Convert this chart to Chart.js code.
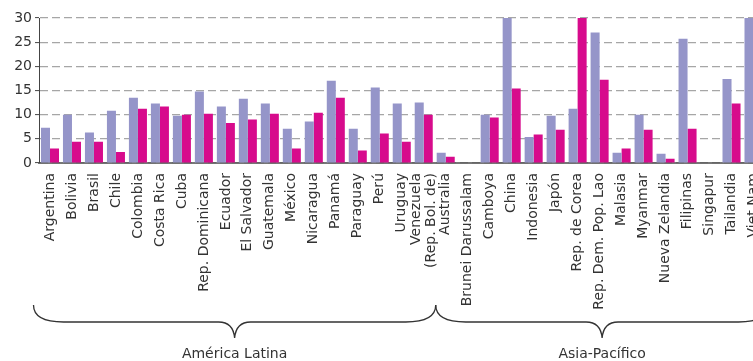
<!DOCTYPE html>
<html>
<head>
<meta charset="utf-8">
<script src="https://cdn.jsdelivr.net/npm/chart.js@4/dist/chart.umd.min.js"></script>
<style>
    html, body { margin: 0; padding: 0; background: #fff; overflow: hidden; }
    #wrap { width: 770px; height: 361px; }
</style>
</head>
<body>
<div id="wrap"><canvas id="barchart" width="770" height="361"></canvas></div>
<script>
"use strict";

var countries = [
    'Argentina', 'Bolivia', 'Brasil', 'Chile', 'Colombia', 'Costa Rica', 'Cuba',
    'Rep. Dominicana', 'Ecuador', 'El Salvador', 'Guatemala', 'México', 'Nicaragua',
    'Panamá', 'Paraguay', 'Perú', 'Uruguay', ['Venezuela', '(Rep. Bol. de)'],
    'Australia', 'Brunei Darussalam', 'Camboya', 'China', 'Indonesia', 'Japón',
    'Rep. de Corea', 'Rep. Dem. Pop. Lao', 'Malasia', 'Myanmar', 'Nueva Zelandia',
    'Filipinas', 'Singapur', 'Tailandia', 'Viet Nam'
];

var serieA = [
    7.3, 10.0, 6.3, 10.8, 13.5, 12.3, 9.8, 14.8, 11.7, 13.3, 12.3, 7.1, 8.6,
    17.0, 7.1, 15.6, 12.3, 12.5,
    2.1, null, 10.0, 30, 5.4, 9.8, 11.2, 27.0, 2.1, 10.0, 1.9, 25.7, null, 17.4, 30
];

var serieB = [
    3.0, 4.4, 4.4, 2.3, 11.2, 11.7, 10.0, 10.2, 8.3, 9.0, 10.2, 3.0, 10.4,
    13.5, 2.6, 6.1, 4.4, 10.0,
    1.3, null, 9.4, 15.4, 5.9, 6.9, 30, 17.2, 3.0, 6.9, 0.9, 7.1, null, 12.3, 16.0
];

var yTicks = [0, 5, 10, 15, 20, 25, 30];

var groups = [
    { name: 'América Latina', first: 0, last: 17 },
    { name: 'Asia-Pacífico', first: 18, last: 32 }
];

var fontFamily = '"DejaVu Sans", sans-serif';

/* curly braces under the category labels */
function drawBrace(ctx, x1, x2, yTop, yLine, yTip) {
    var mid = (x1 + x2) / 2;
    ctx.beginPath();
    ctx.moveTo(x1, yTop);
    ctx.bezierCurveTo(x1, yTop + 12, x1 + 12, yLine, x1 + 30, yLine);
    ctx.lineTo(mid - 16, yLine);
    ctx.bezierCurveTo(mid - 6, yLine, mid - 1, yLine + 5, mid, yTip);
    ctx.bezierCurveTo(mid + 1, yLine + 5, mid + 6, yLine, mid + 16, yLine);
    ctx.lineTo(x2 - 30, yLine);
    ctx.bezierCurveTo(x2 - 12, yLine, x2, yTop + 12, x2, yTop);
    ctx.stroke();
}

var bracePlugin = {
    id: 'braces',
    beforeDraw: function (chart) {
        /* center multi-line rotated labels on their tick */
        var items = chart.scales.x.getLabelItems();
        items.forEach(function (item) {
            if (Array.isArray(item.label) && item.label.length > 1 && !item.centred) {
                item.textOffset -= item.font.lineHeight * (item.label.length - 1) / 2;
                item.centred = true;
            }
        });
    },
    afterDraw: function (chart) {
        var ctx = chart.ctx;
        var x = chart.scales.x;
        var half = (x.getPixelForValue(1) - x.getPixelForValue(0)) / 2;
        ctx.save();
        ctx.strokeStyle = '#333';
        ctx.lineWidth = 1.3;
        ctx.fillStyle = '#333';
        ctx.font = '14px ' + fontFamily;
        ctx.textAlign = 'center';
        ctx.textBaseline = 'alphabetic';
        groups.forEach(function (g, i) {
            var left = x.getPixelForValue(g.first) - half + (i === 0 ? -5.5 : 1);
            var right = x.getPixelForValue(g.last) + half + (i === 0 ? 1 : 4);
            drawBrace(ctx, left, right, 305, 322, 338);
            ctx.fillText(g.name, (left + right) / 2, 358);
        });
        ctx.restore();
    }
};

var barctx = document.getElementById('barchart').getContext('2d');

var barConfig = {
    type: 'bar',
    data: {
        labels: countries,
        datasets: [{
            data: serieA,
            backgroundColor: '#9595c9',
            borderWidth: 0,
            barPercentage: 1.0,
            categoryPercentage: 0.82
        },
        {
            data: serieB,
            backgroundColor: '#d70b8c',
            borderWidth: 0,
            barPercentage: 1.0,
            categoryPercentage: 0.82
        }]
    },
    options: {
        responsive: false,
        animation: false,
        layout: {
            padding: { top: 18, right: 5.5, left: 0, bottom: 0 }
        },
        plugins: {
            legend: { display: false },
            tooltip: { enabled: false }
        },
        scales: {
            x: {
                z: 1,
                grid: { display: false },
                border: { display: true, color: 'rgba(85, 85, 85, 0.8)', width: 2 },
                ticks: {
                    autoSkip: false,
                    minRotation: 90,
                    maxRotation: 90,
                    padding: 2,
                    color: '#333',
                    font: { family: fontFamily, size: 14, lineHeight: 1.08 }
                },
                afterFit: function (scale) {
                    scale.height = 198;
                    scale.paddingLeft = 0;
                    scale.paddingRight = 0;
                }
            },
            y: {
                min: 0,
                max: 30,
                afterBuildTicks: function (scale) {
                    scale.ticks = yTicks.map(function (v) { return { value: v }; });
                },
                grid: {
                    color: '#a6a6a6',
                    lineWidth: 1.2,
                    tickLength: 4,
                    tickColor: '#444',
                    tickWidth: 1
                },
                border: { display: true, color: '#444', width: 1, dash: [8, 4] },
                ticks: {
                    padding: 3,
                    color: '#333',
                    font: { family: fontFamily, size: 14 }
                },
                afterFit: function (scale) {
                    scale.width = 39;
                }
            }
        }
    },
    plugins: [bracePlugin]
};

var myBarChart = new Chart(barctx, barConfig);
</script>
</body>
</html>
